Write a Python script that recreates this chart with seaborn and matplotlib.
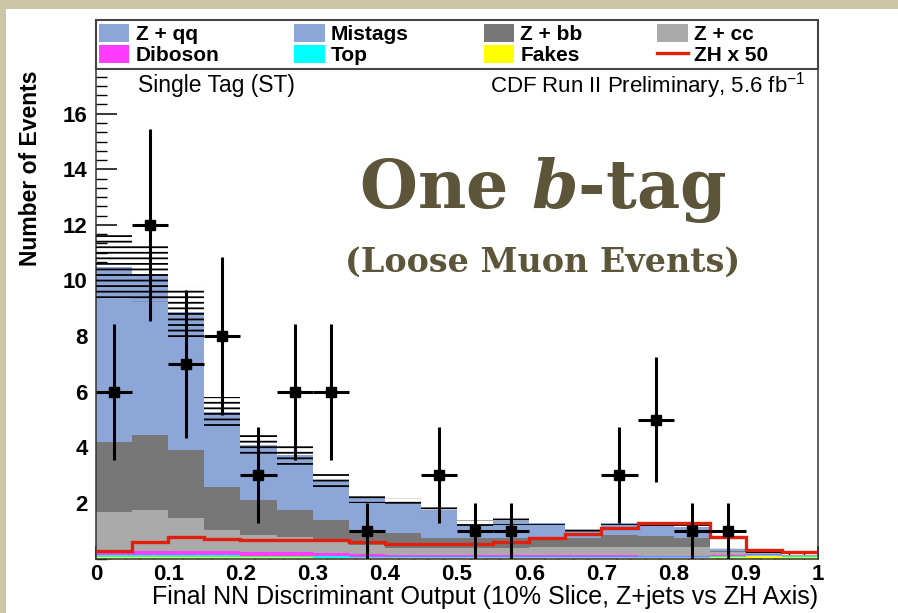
import numpy as np
import pandas as pd
import matplotlib
matplotlib.use("Agg")
import matplotlib.pyplot as plt
from matplotlib.patches import Patch, Rectangle
from matplotlib.lines import Line2D
import seaborn as sns

# ---------------- data ----------------
bin_edges = [0.00, 0.05, 0.10, 0.15, 0.20, 0.25, 0.30, 0.35, 0.40, 0.45, 0.50,
             0.55, 0.60, 0.65, 0.70, 0.75, 0.80, 0.85, 0.90, 0.95, 1.00]
bin_centers = [0.025, 0.075, 0.125, 0.175, 0.225, 0.275, 0.325, 0.375, 0.425, 0.475,
               0.525, 0.575, 0.625, 0.675, 0.725, 0.775, 0.825, 0.875, 0.925, 0.975]

z_qq    = [3.80, 3.50, 3.00, 1.62, 1.19, 1.19, 0.84, 0.68, 0.65, 0.61,
           0.30, 0.38, 0.33, 0.15, 0.26, 0.24, 0.25, 0.05, 0.01, 0.01]
mistags = [2.50, 2.31, 1.98, 1.08, 0.79, 0.79, 0.56, 0.46, 0.43, 0.40,
           0.20, 0.25, 0.22, 0.10, 0.17, 0.16, 0.16, 0.03, 0.01, 0.00]
z_bb    = [2.52, 2.70, 2.44, 1.55, 1.25, 0.96, 0.78, 0.54, 0.54, 0.36,
           0.34, 0.34, 0.32, 0.34, 0.42, 0.37, 0.31, 0.04, 0.01, 0.01]
z_cc    = [1.44, 1.48, 1.19, 0.76, 0.61, 0.55, 0.40, 0.33, 0.25, 0.25,
           0.27, 0.27, 0.29, 0.29, 0.32, 0.33, 0.33, 0.11, 0.03, 0.02]
diboson = [0.12, 0.14, 0.16, 0.16, 0.14, 0.14, 0.12, 0.09, 0.07, 0.07,
           0.05, 0.05, 0.05, 0.05, 0.05, 0.04, 0.04, 0.03, 0.02, 0.01]
top     = [0.08, 0.08, 0.06, 0.06, 0.06, 0.05, 0.05, 0.04, 0.04, 0.04,
           0.04, 0.04, 0.04, 0.04, 0.04, 0.04, 0.04, 0.03, 0.03, 0.02]
fakes   = [0.04, 0.04, 0.05, 0.05, 0.04, 0.04, 0.03, 0.03, 0.02, 0.02,
           0.02, 0.02, 0.02, 0.02, 0.02, 0.02, 0.02, 0.05, 0.10, 0.07]
bkg_err = [1.12, 1.02, 0.90, 0.54, 0.36, 0.36, 0.27, 0.18, 0.16, 0.12,
           0.15, 0.15, 0.05, 0.06, 0.06, 0.08, 0.09, 0.05, 0.03, 0.05]
zh_x50  = [0.27, 0.60, 0.78, 0.69, 0.66, 0.66, 0.66, 0.60, 0.52, 0.52,
           0.52, 0.60, 0.73, 0.88, 1.09, 1.29, 1.29, 0.78, 0.31, 0.25]
observed = [6, 12, 7, 8, 3, 6, 6, 1, 0, 3, 1, 1, 0, 0, 3, 5, 1, 1, 0, 0]
obs_err  = [2.45, 3.46, 2.65, 2.83, 1.73, 2.45, 2.45, 1.00, 0.00, 1.73,
            1.00, 1.00, 0.00, 0.00, 1.73, 2.24, 1.00, 1.00, 0.00, 0.00]

components = ["Z + qq", "Mistags", "Z + bb", "Z + cc", "Diboson", "Top", "Fakes"]
comp_values = [z_qq, mistags, z_bb, z_cc, diboson, top, fakes]
comp_colors = ["#8da6d8", "#8da6d8", "#777777", "#aaaaaa", "#ff3cff", "#00ffff", "#ffff00"]

x_ticks = [0.0, 0.1, 0.2, 0.3, 0.4, 0.5, 0.6, 0.7, 0.8, 0.9, 1.0]
x_tick_labels = ["0", "0.1", "0.2", "0.3", "0.4", "0.5", "0.6", "0.7", "0.8", "0.9", "1"]
y_ticks = [2, 4, 6, 8, 10, 12, 14, 16]

# ---------------- figure ----------------
plt.rcParams["font.family"] = ["Liberation Sans", "DejaVu Sans"]
plt.rcParams["mathtext.fontset"] = "custom"
plt.rcParams["mathtext.default"] = "regular"
plt.rcParams["mathtext.it"] = "DejaVu Serif:italic:bold"
plt.rcParams["hatch.linewidth"] = 1.3

W, H = 898, 613
fig = plt.figure(figsize=(W / 100, H / 100), dpi=100)
fig.patch.set_facecolor("#cac6a6")
fig.add_artist(Rectangle((6 / W, 0), 1, 1 - 9 / H, transform=fig.transFigure,
                         facecolor="white", edgecolor="none", zorder=0))

ax_l, ax_r, ax_t, ax_b = 96, 818, 20, 558.5
ax = fig.add_axes([ax_l / W, 1 - ax_b / H, (ax_r - ax_l) / W, (ax_b - ax_t) / H])
ax.set_facecolor("white")

rows = []
for name, vals in zip(components, comp_values):
    for c, v in zip(bin_centers, vals):
        rows.append({"x": c, "w": v, "comp": name})
df = pd.DataFrame(rows)
pal = dict(zip(components, comp_colors))

sns.histplot(data=df, x="x", weights="w", hue="comp", hue_order=components,
             multiple="stack", bins=bin_edges, palette=pal, alpha=1.0,
             linewidth=0, element="bars", legend=False, ax=ax, zorder=2)

total = np.sum(np.array(comp_values), axis=0)
err = np.array(bkg_err)
ax.bar(bin_centers, 2 * err, bottom=total - err, width=0.05, fill=False,
       hatch="---", edgecolor="black", linewidth=0, zorder=3)

ax.stairs(zh_x50, bin_edges, color="#e0200d", linewidth=2.4, baseline=None, zorder=4)

obs = np.array(observed)
mask = obs > 0
ax.errorbar(np.array(bin_centers)[mask], obs[mask], yerr=np.array(obs_err)[mask],
            xerr=0.025, fmt="s", color="black", markersize=7, elinewidth=2.2,
            capsize=0, zorder=5)

ax.set_xlim(0, 1)
ax.set_ylim(0, (ax_b - ax_t) / 27.8)
ax.set_xlabel("")
ax.set_ylabel("")
ax.set_xticks(x_ticks)
ax.set_xticklabels(x_tick_labels, fontsize=16, fontweight="bold")
ax.set_xticks(np.arange(0, 1.0001, 0.02), minor=True)
ax.set_yticks(y_ticks)
ax.set_yticklabels([str(v) for v in y_ticks], fontsize=16, fontweight="bold")
ax.set_yticks(np.arange(0, 19.4, 1 / 3), minor=True)
ax.tick_params(axis="x", which="major", direction="in", length=9.5, width=1.1, pad=4)
ax.tick_params(axis="x", which="minor", direction="in", length=5, width=1.0)
ax.tick_params(axis="y", which="major", direction="in", length=15, width=1.1, pad=6)
ax.tick_params(axis="y", which="minor", direction="in", length=8, width=1.0)
for s in ax.spines.values():
    s.set_linewidth(1.1)
    s.set_color("#333333")

ax.text(-0.0914, 0.907, "Number of Events", rotation=90, ha="center", va="top",
        transform=ax.transAxes, fontsize=16.5, fontweight="bold")
ax.text(1.0, -0.072, "Final NN Discriminant Output (10% Slice, Z+jets vs ZH Axis)",
        ha="right", va="center", transform=ax.transAxes, fontsize=18)

ax.text(0.058, 0.879, "Single Tag (ST)", ha="left", va="center",
        transform=ax.transAxes, fontsize=16.5)
ax.text(0.983, 0.879, r"CDF Run II Preliminary, 5.6 fb$^{-1}$", ha="right", va="center",
        transform=ax.transAxes, fontsize=16)

# legend box spanning the top of the frame
leg_h = 49 / (ax_b - ax_t)
ax.add_patch(Rectangle((0, 1 - leg_h), 1, leg_h, transform=ax.transAxes,
                       facecolor="white", edgecolor="#444444", linewidth=1.5,
                       zorder=9, clip_on=False))
handles = [Patch(facecolor=comp_colors[0]), Patch(facecolor=comp_colors[4]),
           Patch(facecolor=comp_colors[1]), Patch(facecolor=comp_colors[5]),
           Patch(facecolor=comp_colors[2]), Patch(facecolor=comp_colors[6]),
           Patch(facecolor=comp_colors[3]),
           Line2D([], [], color="#e0200d", linewidth=2.4)]
labels = ["Z + qq", "Diboson", "Mistags", "Top", "Z + bb", "Fakes", "Z + cc", "ZH x 50"]
leg = ax.legend(handles, labels, ncol=4, loc="center left",
                bbox_to_anchor=(0.0, 1 - leg_h / 2), borderaxespad=0,
                frameon=False, prop={"size": 15, "weight": "bold"},
                handlelength=1.45, handleheight=0.95, handletextpad=0.3,
                labelspacing=0.05, borderpad=0.15, columnspacing=3.6)
leg.set_zorder(10)

fig.text(543 / W, 1 - 190 / H, r"One $\mathit{b}$-tag", ha="center", va="center",
         fontsize=48, fontweight="bold", color="#5c5539", family="DejaVu Serif")
fig.text(543 / W, 1 - 262 / H, "(Loose Muon Events)", ha="center", va="center",
         fontsize=24, fontweight="bold", color="#5c5539", family="DejaVu Serif")

fig.savefig("out.png", dpi=100, facecolor=fig.get_facecolor())
